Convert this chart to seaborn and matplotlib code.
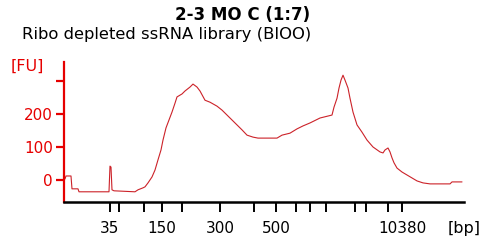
import pandas as pd
import seaborn as sns
import matplotlib
matplotlib.use("Agg")
import matplotlib.pyplot as plt

# electropherogram trace, migration time [s] vs fluorescence [FU]
time_s = [40.2, 40.4, 41.4, 41.6, 42.8, 43.0, 49.0, 49.2, 49.4, 49.6, 50.0, 54.2, 54.8,
          55.8, 56.2, 56.8, 57.6, 58.2, 58.8, 59.4, 59.8, 60.4, 61.0, 61.6, 62.2, 62.6,
          63.6, 64.2, 65.2, 65.8, 66.6, 67.2, 68.2, 69.2, 70.6, 71.6, 72.6, 73.6, 74.6,
          75.6, 76.6, 77.8, 78.8, 82.6, 83.6, 85.2, 86.6, 87.8, 89.2, 91.2, 93.6, 94.0,
          94.6, 95.0, 95.4, 95.8, 96.2, 96.8, 97.2, 97.8, 98.6, 99.6, 100.6, 101.8,
          103.2, 103.8, 104.2, 104.8, 105.2, 105.6, 106.0, 106.6, 107.6, 108.6, 109.6,
          110.6, 111.8, 113.2, 117.2, 117.6, 119.6]
fu = [3, 12, 12, -27, -27, -36, -36, 42, 39, -30, -33, -36, -30,
      -24, -21, -9, 9, 30, 61, 91, 121, 158, 182, 206, 233, 252,
      261, 270, 282, 291, 282, 270, 242, 236, 224, 212, 197, 182, 167,
      152, 136, 130, 127, 127, 136, 142, 155, 164, 173, 188, 197, 221,
      248, 279, 303, 318, 303, 279, 248, 206, 167, 145, 121, 100,
      85, 82, 91, 97, 85, 67, 52, 36, 24, 15, 6,
      -3, -9, -12, -12, -6, -6]

# ladder positions (time) and their bp labels
ladder_time = [49.2, 51.1, 56.0, 59.6, 63.6, 71.2, 78.0, 82.4, 86.4, 89.2, 92.4,
               98.2, 100.4, 104.8, 107.6]
ladder_bp = ["35", "", "", "150", "", "300", "", "500", "", "", "", "", "", "", "10380"]

fu_ticks = [0, 100, 200, 300]
fu_labels = ["0", "100", "200", ""]

sns.set_theme(style="white")
plt.rcParams["font.family"] = ["DejaVu Sans"]
plt.rcParams["text.color"] = "black"

axis_red = "#e60000"
trace_red = "#cc2229"

df = pd.DataFrame({"time": time_s, "fu": fu})

fig = plt.figure(figsize=(4.93, 2.43), dpi=100)
ax = fig.add_axes([0.1298, 0.1687, 0.8114, 0.5761])
sns.lineplot(data=df, x="time", y="fu", ax=ax, sort=False, estimator=None,
             color=trace_red, linewidth=0.8)

ax.set_xlim(40, 120)
ax.set_ylim(-67, 358)
ax.set_xlabel("")
ax.set_ylabel("")

ax.spines["top"].set_visible(False)
ax.spines["right"].set_visible(False)
ax.spines["left"].set_color(axis_red)
ax.spines["left"].set_linewidth(1.6)
ax.spines["bottom"].set_color("black")
ax.spines["bottom"].set_linewidth(1.8)

ax.set_yticks(fu_ticks)
ax.set_yticklabels(fu_labels)
ax.tick_params(axis="y", colors=axis_red, direction="out", length=6, width=1.6,
               labelsize=11, pad=2, left=True)
ax.set_xticks(ladder_time)
ax.set_xticklabels(ladder_bp)
ax.tick_params(axis="x", colors="black", direction="out", length=7, width=1.4,
               labelsize=11, pad=7, bottom=True)

fig.text(0.493, 0.938, "2-3 MO C (1:7)", ha="center", va="center",
         fontsize=12, fontweight="bold", color="black")
fig.text(0.045, 0.856, "Ribo depleted ssRNA library (BIOO)", ha="left", va="center",
         fontsize=11.8, color="black")
fig.text(0.022, 0.728, "[FU]", ha="left", va="center", fontsize=11.5, color=axis_red)
fig.text(0.908, 0.058, "[bp]", ha="left", va="center", fontsize=11.5, color="black")

fig.savefig("out.png", dpi=100)
